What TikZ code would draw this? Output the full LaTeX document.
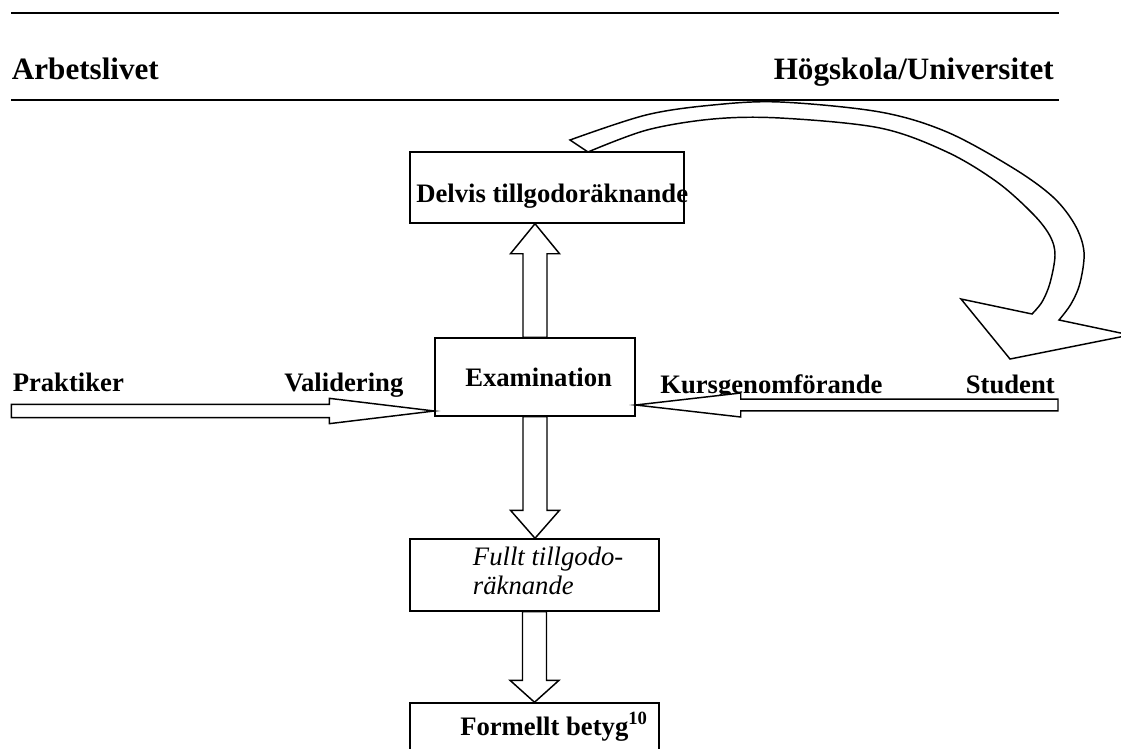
\documentclass[tikz,border=0pt]{standalone}
\usepackage{fontspec}
\setmainfont{Liberation Serif}
\usetikzlibrary{calc}
\tikzset{
  rule/.style={line width=1.5pt},
  box/.style={draw, line width=1.1pt, inner sep=0pt},
  barrow/.style={draw, line width=1.1pt, fill=white, line join=miter},
  lbl/.style={anchor=base west, inner sep=0pt, font=\fontsize{20pt}{21.75pt}\selectfont\bfseries},
  lblr/.style={lbl, anchor=base east},
  headlbl/.style={inner sep=0pt, font=\fontsize{23.33pt}{26pt}\selectfont\bfseries},
}
\newcommand{\blockarrow}[5]{%
  \coordinate (hb) at ($(#2)!#5!(#1)$);
  \draw[barrow] ($(#1)!#3!90:(#2)$) -- ($(hb)!#3!90:(#2)$) -- ($(hb)!#4!90:(#2)$) -- (#2)
    -- ($(hb)!#4!-90:(#2)$) -- ($(hb)!#3!-90:(#2)$) -- ($(#1)!#3!-90:(#2)$) -- cycle;}
\begin{document}
\begin{tikzpicture}[x=0.75pt,y=-0.75pt]
\useasboundingbox (0,0) rectangle (1121,749);
\clip (0,0) rectangle (1121,749);
% header rules
\coordinate (r1a) at (11,13.3);
\coordinate (r1b) at (1059,13.3);
\coordinate (r2a) at (11,100);
\coordinate (r2b) at (1059,100);
\draw[rule] (r1a) -- (r1b);
\draw[rule] (r2a) -- (r2b);
\node[headlbl, anchor=base west] (arb) at (11.7,79.3) {Arbetslivet};
\node[headlbl, anchor=base east] (hogs) at (1054,79.3) {Högskola/Universitet};
% boxes
\node[box, minimum width=205.5pt, minimum height=53.25pt] (delvis) at (547,187.5) {};
\node[box, minimum width=150pt, minimum height=58.5pt] (exam) at (535,377) {};
\node[box, minimum width=186.75pt, minimum height=54pt] (fullt) at (534.5,575) {};
\node[box, minimum width=186.75pt, minimum height=54pt] (formellt) at (534.5,739) {};
% texts
\node[lbl] (tdelvis) at (416,202.7) {Delvis tillgodoräknande};
\node[lbl] (texam) at (465,386.7) {Examination};
\node[lbl, font=\fontsize{20pt}{21.75pt}\selectfont\mdseries\itshape, align=left] (tfullt) at (472.7,594) {Fullt tillgodo-\\räknande};
\node[lbl] (tformellt) at (460,735) {Formellt betyg\textsuperscript{10}};
\node[lbl] (prak) at (12.5,391) {Praktiker};
\node[lblr] (valid) at (403.6,391) {Validering};
\node[lbl] (kurs) at (660,393) {Kursgenomförande};
\node[lblr] (stud) at (1055,393) {Student};
% vertical block arrows
\coordinate (ea) at (exam.north);
\coordinate (da) at (exam.north |- delvis.south);
\blockarrow{ea}{da}{9pt}{18.4pt}{22.5pt}
\coordinate (eb) at (exam.south);
\coordinate (fa) at (exam.south |- fullt.north);
\blockarrow{eb}{fa}{9pt}{18.4pt}{21pt}
\coordinate (fb) at (fullt.south);
\coordinate (ga) at (fullt.south |- formellt.north);
\blockarrow{fb}{ga}{9pt}{18.4pt}{16.5pt}
% horizontal block arrows
\coordinate (pst) at (11.4,411);
\coordinate (pend) at (exam.west |- pst);
\blockarrow{pst}{pend}{4.9pt}{9.5pt}{78.75pt}
\coordinate (sst) at (1058,405);
\coordinate (send) at (exam.east |- sst);
\blockarrow{sst}{send}{4.4pt}{9pt}{78.75pt}
% curved arrow
\draw[barrow] plot[smooth, tension=0.55] coordinates {(570,140) (646,115) (713,105) (780,102) (880,112) (947,132) (1013,168) (1053,197) (1075,225) (1084,252) (1080,283) (1071,304) (1059,320)}
  -- (1130,335) -- (1010,359) -- (961,299)
  -- plot[smooth, tension=0.55] coordinates {(1032,314) (1042,302) (1050,283) (1055,255) (1050,236) (1033,214) (997,182) (947,152) (880,128) (780,118) (713,119) (647,130) (588,152)}
  -- cycle;
\end{tikzpicture}
\end{document}
